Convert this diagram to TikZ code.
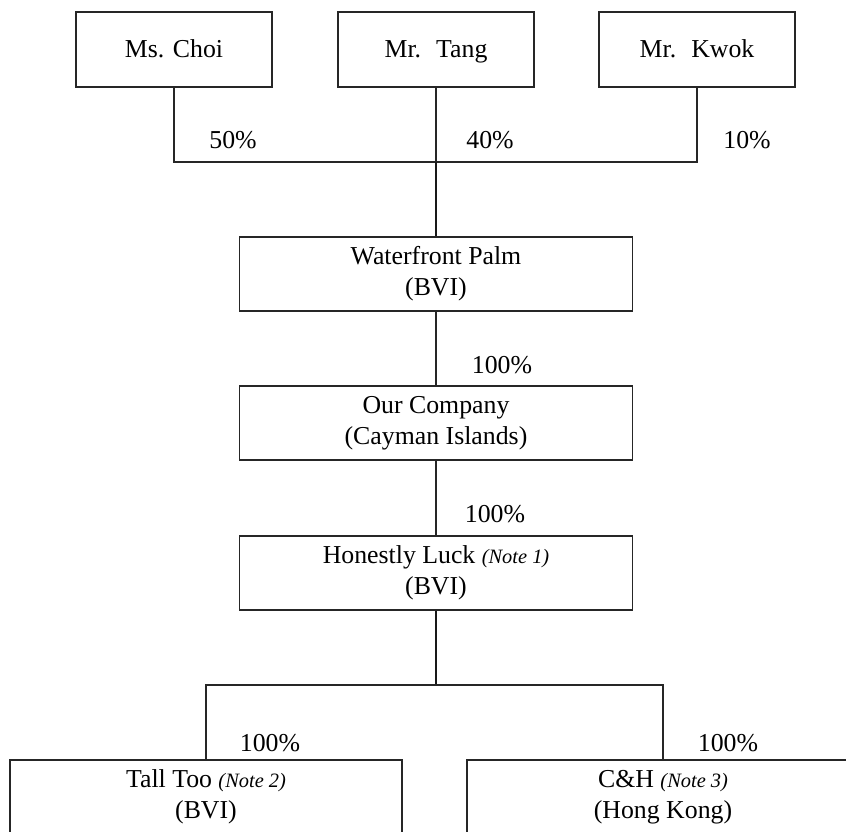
\documentclass[tikz,border=0pt]{standalone}
\usepackage{fontspec}
\setmainfont{Liberation Serif}
\usetikzlibrary{positioning}

\tikzstyle{box}=[draw=black!85,line width=0.55pt,inner sep=0pt,align=center,font=\fontsize{12.9}{15.5}\selectfont]
\tikzstyle{owner}=[box,minimum width=98pt,minimum height=37.5pt,text height=10pt,text depth=2pt]
\tikzstyle{entity}=[box,minimum width=196.5pt,minimum height=37pt]
\tikzstyle{share}=[inner sep=0pt,font=\fontsize{12.9}{14}\selectfont]
\tikzstyle{link}=[draw=black!85,line width=0.55pt]
\tikzstyle{trunk}=[draw=black!90,line width=0.8pt]
\newcommand{\notetag}[1]{{\fontsize{10.2}{12}\selectfont\itshape (Note #1)}}

\begin{document}
\begin{tikzpicture}[x=0.5pt,y=-0.5pt]

   \clip (0,0) rectangle (846,831);

   % Shareholders

   \node[owner] (choi) at (174,49.5) {Ms. Choi};
   \node[owner] (tang) at (436,49.5) {Mr.~ Tang};
   \node[owner] (kwok) at (697,49.5) {Mr.~ Kwok};

   \node[share] (p50) at (233,140) {50\%};
   \node[share] (p40) at (490,140) {40\%};
   \node[share] (p10) at (747,140) {10\%};

   \coordinate (join) at (436,162);

   % Holding chain

   \node[entity] (wfp) at (436,274) {Waterfront Palm\\(BVI)};
   \node[entity] (ourco) at (436,423) {Our Company\\(Cayman Islands)};
   \node[entity] (honest) at (436,573) {Honestly Luck \notetag{1}\\(BVI)};

   \node[share] (p100a) at (502,365) {100\%};
   \node[share] (p100b) at (495,514) {100\%};

   % Subsidiaries

   \coordinate (split) at (436,685);

   \node[entity,minimum width=196pt] (tall) at (206,797) {Tall Too \notetag{2}\\(BVI)};
   \node[entity,minimum width=196pt] (candh) at (663,797) {C\&H \notetag{3}\\(Hong Kong)};

   \node[share] (p100c) at (270,743) {100\%};
   \node[share] (p100d) at (728,743) {100\%};

   \draw[link] (choi.south) |- (join);
   \draw[link] (kwok.south) |- (join);
   \draw[link] (tang.south) -- (join);
   \draw[trunk] (join) -- (wfp.north);
   \draw[link] (wfp.south) -- (ourco.north);
   \draw[link] (ourco.south) -- (honest.north);
   \draw[trunk] (honest.south) -- (split);
   \draw[link] (split) -| (tall.north);
   \draw[link] (split) -| (candh.north);

\end{tikzpicture}
\end{document}
